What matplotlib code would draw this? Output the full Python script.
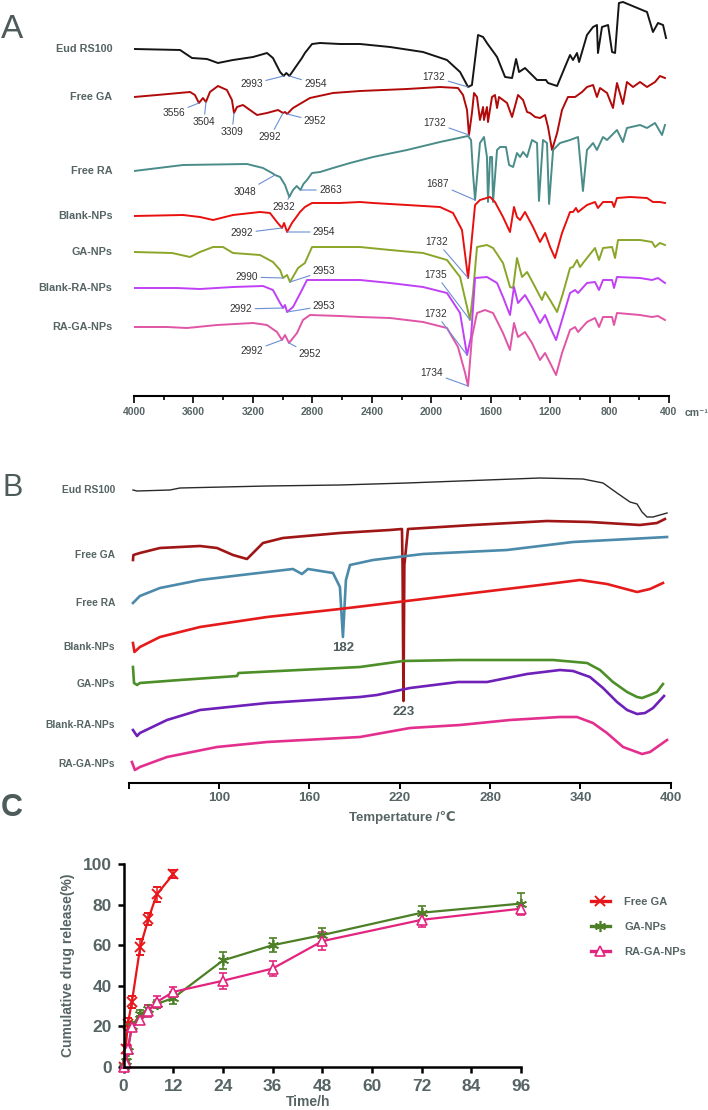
import numpy as np
import matplotlib
matplotlib.use("Agg")
import matplotlib.pyplot as plt
from matplotlib import font_manager
from matplotlib.lines import Line2D
from matplotlib.ticker import MultipleLocator

plt.rcParams['font.family'] = ['Liberation Sans', 'DejaVu Sans']
have_narrow = any(f.name == 'Liberation Sans Narrow' for f in font_manager.fontManager.ttflist)
narrow = ['Liberation Sans Narrow', 'DejaVu Sans'] if have_narrow else ['Liberation Sans', 'DejaVu Sans']

grey = '#566464'
letter_grey = '#4d5b5b'

######################### A: FTIR spectra (wavenumber, relative T a.u.) ##########
sample_names = ['Eud RS100', 'Free GA', 'Free RA', 'Blank-NPs', 'GA-NPs', 'Blank-RA-NPs', 'RA-GA-NPs']

eud_wn = [4000, 3690, 3610, 3509, 3435, 3334, 3199, 3105, 3065, 3017, 2993, 2975, 2954, 2917, 2870,
          2850, 2802, 2748, 2614, 2479, 2277, 2055, 1894, 1806, 1752, 1726, 1685, 1651, 1625, 1557,
          1503, 1456, 1429, 1409, 1369, 1288, 1228, 1214, 1153, 1086, 1066, 1046, 1019, 1005, 952,
          911, 885, 878, 851, 810, 783, 763, 737, 710, 548, 508, 474, 440, 420]
eud_t = [0, -1, -9, -10, -14, -11, -8, -4, -9, -23, -27, -24, -27, -19, -9,
         -4, 5, 6, 5, 5, 2, -3, -11, -23, -38, -36, 14, 12, 6, -8,
         -28, -29, -10, -23, -19, -31, -31, -34, -37, -13, -6, -11, -4, -13, 14,
         22, 24, -4, 22, 24, -3, -4, 46, 47, 37, 17, 26, 24, 11]

ga_wn = [4000, 3845, 3623, 3590, 3563, 3536, 3516, 3489, 3435, 3375, 3341, 3327, 3307, 3267, 3172,
         3105, 3031, 2997, 2984, 2970, 2930, 2816, 2661, 2479, 2163, 1941, 1820, 1786, 1759, 1746,
         1726, 1712, 1692, 1672, 1651, 1645, 1625, 1618, 1591, 1571, 1557, 1544, 1490, 1456, 1416,
         1382, 1355, 1335, 1301, 1268, 1234, 1214, 1187, 1153, 1120, 1080, 1032, 985, 952, 911,
         885, 864, 817, 777, 750, 710, 683, 642, 595, 548, 494, 461, 427]
ga_t = [0, 2, 5, 2, -6, -1, -5, 5, 11, 7, -3, -16, -10, -8, -18,
        -16, -13, -16, -15, -17, -11, -1, 4, 6, 8, 10, 9, 2, -13, -38,
        -16, 4, 0, -23, -10, -23, -10, -25, 0, 2, -11, 0, -6, -20, 2,
        -3, -15, -16, -20, -21, -18, -30, -53, -36, -13, 0, 0, 5, 10, 12,
        0, 9, 4, -11, 14, -7, 15, 10, 15, 10, 15, 21, 19]

ra_wn = [4000, 3670, 3240, 3132, 3071, 3051, 3017, 2984, 2955, 2930, 2905, 2880, 2860, 2836, 2802,
         2748, 2661, 2546, 2392, 2163, 1941, 1752, 1732, 1719, 1705, 1672, 1645, 1625, 1618, 1604,
         1591, 1584, 1557, 1537, 1497, 1476, 1449, 1423, 1402, 1382, 1355, 1322, 1288, 1275, 1248,
         1221, 1207, 1180, 1133, 1066, 1012, 979, 952, 911, 885, 844, 817, 750, 710, 683,
         595, 548, 494, 447, 427]
ra_t = [0, 6, 7, 3, -2, -4, -6, -14, -26, -19, -15, -19, -13, -9, -2,
        -1, 3, 8, 14, 21, 29, 35, 31, -2, -29, 28, 34, 14, -31, 14,
        14, -31, 21, 24, 24, 6, 4, 18, 14, 19, 14, 31, 28, -30, 31,
        28, -33, 21, 28, 31, 34, -20, 21, 28, 21, 34, 31, 41, 29, 43,
        46, 43, 48, 36, 46]

bnp_wn = [4000, 3670, 3556, 3468, 3334, 3152, 3085, 3038, 3004, 2990, 2970, 2937, 2883, 2850, 2802,
          2614, 2479, 2392, 2163, 1941, 1853, 1793, 1752, 1732, 1705, 1672, 1604, 1571, 1517, 1470,
          1443, 1423, 1402, 1369, 1315, 1268, 1234, 1200, 1167, 1120, 1066, 1046, 1026, 1012, 952,
          898, 878, 844, 783, 770, 750, 662, 548, 508, 461, 427]
bnp_t = [0, 1, -1, -4, 1, 4, 3, -6, -12, -7, -16, -7, 4, 9, 13,
         13, 14, 13, 11, 9, 3, -14, -62, -31, 11, 16, 19, 14, -1, -16,
         9, -1, -4, 4, -11, -26, -17, -31, -42, -17, 4, 4, 8, 4, 11,
         14, 8, 14, 14, 9, 18, 19, 18, 14, 14, 13]

gnp_wn = [4000, 3744, 3623, 3556, 3468, 3401, 3334, 3152, 3065, 3017, 2997, 2970, 2950, 2896, 2850,
          2802, 2614, 2479, 2277, 2055, 1894, 1806, 1759, 1739, 1719, 1692, 1625, 1584, 1517, 1470,
          1449, 1423, 1389, 1355, 1315, 1255, 1234, 1200, 1153, 1113, 1066, 1046, 1019, 999, 952,
          898, 871, 844, 783, 763, 743, 595, 514, 494, 461, 427]
gnp_t = [0, -1, -5, 0, 5, 5, -1, -3, -10, -18, -26, -23, -30, -16, -11,
         5, 5, 5, 2, -1, -8, -25, -55, -68, -41, 5, 7, 4, -11, -35,
         -36, -6, -25, -20, -31, -48, -40, -48, -60, -41, -16, -15, -8, -15, -6,
         4, -8, 4, 5, -6, 12, 12, 10, 5, 9, 7]

brnp_wn = [4000, 3711, 3556, 3334, 3132, 3065, 3017, 2997, 2984, 2970, 2930, 2870, 2836, 2614, 2479,
           2277, 2055, 1894, 1806, 1759, 1732, 1705, 1625, 1557, 1517, 1470, 1443, 1416, 1369, 1322,
           1268, 1234, 1200, 1160, 1120, 1066, 1032, 1012, 952, 898, 871, 844, 783, 770, 750,
           595, 514, 474, 427]
brnp_t = [0, 0, -1, 1, 2, -2, -15, -20, -17, -24, -19, -2, 8, 8, 8,
          5, 1, -5, -25, -67, -49, 10, 11, 5, -9, -27, 1, -15, -7, -19,
          -35, -27, -39, -52, -32, -5, -2, -5, 5, 6, -2, 8, 8, 0, 11,
          10, 8, 10, 5]

rgnp_wn = [4000, 3778, 3643, 3441, 3199, 3105, 3038, 3004, 2984, 2957, 2903, 2863, 2816, 2614, 2479,
           2277, 2055, 1894, 1820, 1772, 1752, 1726, 1692, 1638, 1584, 1517, 1470, 1443, 1416, 1369,
           1322, 1268, 1234, 1200, 1160, 1120, 1066, 1032, 1012, 952, 898, 871, 844, 783, 770,
           750, 595, 514, 474, 427]
rgnp_t = [0, 0, -1, 2, 4, 2, -5, -13, -8, -16, -6, 7, 12, 11, 10,
          9, 5, -1, -20, -46, -59, -10, 14, 17, 14, -6, -23, 4, -10, -5,
          -16, -33, -26, -36, -48, -26, -3, 0, -5, 5, 9, 0, 10, 10, 2,
          14, 12, 10, 11, 7]

ftir_wn = [eud_wn, ga_wn, ra_wn, bnp_wn, gnp_wn, brnp_wn, rgnp_wn]
ftir_t = [eud_t, ga_t, ra_t, bnp_t, gnp_t, brnp_t, rgnp_t]
ftir_colors = ['#151515', '#b20a0a', '#4a8c8a', '#e8100e', '#8aa62a', '#c040f5', '#e055a5']
ftir_offsets = [347, 299, 225, 180, 144, 108, 69]

# (trace, peak wavenumber, label, text offset x, y in pixels)
ftir_peaks = [
    (0, 2993, '2993', -32, -8), (0, 2954, '2954', 26, -8), (0, 1752, '1732', -34, 10),
    (1, 3563, '3556', -25, -10), (1, 3516, '3504', -2, -20), (1, 3327, '3309', -2, -19),
    (1, 2997, '2992', -13, -24), (1, 2970, '2952', 28, -7), (1, 1746, '1732', -34, 12),
    (2, 3051, '3048', -30, -17), (2, 2955, '2932', -6, -10), (2, 2880, '2863', 30, 0),
    (2, 1705, '1687', -37, 16),
    (3, 3004, '2992', -40, -5), (3, 2970, '2954', 37, 0), (3, 1752, '1732', -31, 36),
    (4, 2997, '2990', -36, 1), (4, 2950, '2953', 34, 11), (4, 1739, '1735', -34, 45),
    (5, 2997, '2992', -42, -1), (5, 2970, '2953', 37, 6), (5, 1759, '1732', -31, 41),
    (6, 3004, '2992', -30, -11), (6, 2957, '2952', 21, -11), (6, 1752, '1734', -36, 13),
]

######################### B: DSC curves (temperature, relative heat flow) #########
eud_T = [42.9, 45.6, 67.5, 74.1, 131.9, 180.3, 224.8, 313.1, 341.7, 355.0, 364.3, 372.9, 377.6,
         380.9, 384.2, 388.2, 392.8, 397.5]
eud_hf = [0, -1, 0, 2, 4, 5, 7, 12, 11, 7, -3, -12, -14, -22, -27, -27, -25, -23]

ga_T = [42.9, 43.2, 47.5, 60.8, 87.4, 98.7, 109.3, 118.6, 122.6, 129.2, 142.5, 180.3, 213.5,
        221.5, 221.9, 222.2, 222.5, 222.8, 223.1, 225.5, 268.7, 317.8, 346.3, 379.5, 390.8, 396.1]
ga_hf = [-5, 0, 2, 7, 9, 7, 0, -4, 2, 12, 17, 22, 25, 26, -10, -80, -146, -80, -10, 26, 30, 34,
         33, 30, 32, 36]

ra_T = [42.9, 47.5, 60.8, 87.4, 120.6, 149.1, 155.1, 159.1, 175.7, 180.3, 182.3, 184.3, 187.0,
        202.3, 235.5, 291.2, 335.0, 397.5]
ra_hf = [0, 7, 15, 23, 29, 34, 29, 34, 30, 16, -34, 23, 38, 43, 49, 53, 61, 66]

bnp_T = [42.9, 43.9, 47.5, 60.8, 87.4, 131.9, 180.3, 246.7, 313.1, 339.7, 357.6, 377.6, 386.2, 394.8]
bnp_hf = [4, -5, 0, 10, 20, 30, 38, 50, 62, 67, 63, 55, 58, 64]

gnp_T = [42.9, 43.6, 45.6, 47.5, 74.1, 112.0, 113.0, 193.6, 222.2, 260.0, 321.8, 344.4, 353.0,
         361.6, 371.0, 377.6, 380.9, 386.2, 390.8, 394.8]
gnp_hf = [17, 1, -1, 1, 4, 8, 11, 17, 23, 24, 24, 21, 14, 2, -8, -13, -14, -11, -8, 0]

brnp_T = [42.9, 45.6, 47.5, 65.5, 87.4, 131.9, 193.6, 204.9, 226.8, 258.7, 278.0, 304.5, 326.4,
          335.1, 346.3, 355.0, 364.3, 371.0, 377.6, 382.9, 388.2, 395.5]
brnp_hf = [-5, -11, -8, 5, 15, 22, 28, 30, 37, 43, 43, 51, 55, 54, 48, 37, 23, 15, 11, 12, 17, 29]

rgnp_T = [42.2, 44.2, 47.5, 65.5, 98.7, 131.9, 193.6, 226.8, 260.0, 293.2, 326.4, 337.7, 348.3,
          357.6, 368.3, 380.9, 386.2, 392.8, 397.5]
rgnp_hf = [2, -6, -3, 7, 17, 22, 27, 36, 39, 44, 47, 47, 41, 31, 17, 10, 12, 19, 24]

dsc_T = [eud_T, ga_T, ra_T, bnp_T, gnp_T, brnp_T, rgnp_T]
dsc_hf = [eud_hf, ga_hf, ra_hf, bnp_hf, gnp_hf, brnp_hf, rgnp_hf]
dsc_colors = ['#2a2a2a', '#a01515', '#4b8aab', '#e51b1b', '#4c8f28', '#6e20b8', '#e3308e']
dsc_offsets = [293, 228, 180, 136, 99, 58, 19]
dsc_peaks = [(2, '182'), (1, '223')]

######################### C: release profile #######################################
free_ga_t = [0, 0.5, 1, 2, 4, 6, 8, 12]
free_ga = [0, 9, 21, 32, 59, 73, 85, 95]
free_ga_err = [1, 2, 3, 3, 4, 3, 3.5, 2]

np_t = [0, 0.5, 1, 2, 4, 6, 8, 12, 24, 36, 48, 72, 96]
ga_nps = [0, 3, 8, 20, 26, 28.5, 31, 34, 52.5, 60, 65, 76, 80.5]
ga_nps_err = [1, 1, 1.5, 2, 2, 2, 2, 3, 4, 3.5, 3.5, 3.5, 5]
ra_ga_nps = [0, 2, 9, 19.5, 23, 27.5, 32, 37, 42.5, 48.5, 62, 72.5, 78]
ra_ga_nps_err = [1, 1, 1.5, 2, 2, 3, 3, 2.5, 4, 3.5, 4.5, 3.5, 3]

######################### figure ###################################################
W, H = 708, 1110
fig = plt.figure(figsize=(W / 100, H / 100), dpi=100)


def px_axes(x0, y0, x1, y1):
    return fig.add_axes([x0 / W, 1 - y1 / H, (x1 - x0) / W, (y1 - y0) / H])


def bottom_only(ax, lw):
    for s in ['top', 'right', 'left']:
        ax.spines[s].set_visible(False)
    ax.spines['bottom'].set_linewidth(lw)
    ax.set_yticks([])
    ax.patch.set_alpha(0)


# ---- A ----
axA = px_axes(134, 0, 669, 396)
for name, wn, t, off, col in zip(sample_names, ftir_wn, ftir_t, ftir_offsets, ftir_colors):
    axA.plot(wn, np.asarray(t) + off, color=col, lw=1.4, solid_joinstyle='round')
    axA.text(-0.04, off, name, transform=axA.get_yaxis_transform(), ha='right', va='center',
             fontsize=7.8, fontweight='bold', color=grey)

for idx, pk, txt, dx, dy in ftir_peaks:
    wn = np.asarray(ftir_wn[idx])[::-1]
    t = np.asarray(ftir_t[idx])[::-1]
    y = ftir_offsets[idx] + np.interp(pk, wn, t)
    axA.annotate(txt, xy=(pk, y), xytext=(dx, dy), textcoords='offset pixels', ha='center',
                 va='center', fontsize=7.3, color='#333333',
                 arrowprops=dict(arrowstyle='-', color='#6b8fd4', lw=0.8, shrinkA=0, shrinkB=0))

axA.set_xlim(4000, 400)
axA.set_ylim(0, 396)
bottom_only(axA, 1.5)
axA.set_xticks(np.arange(4000, 399, -400))
axA.xaxis.set_minor_locator(MultipleLocator(200))
axA.tick_params(axis='x', which='major', length=5, width=1.2, pad=3, labelsize=7.5, labelcolor=grey)
axA.tick_params(axis='x', which='minor', length=3, width=1.2)
for lab in axA.get_xticklabels():
    lab.set_fontweight('bold')
axA.text(1.03, -0.043, 'cm\u207b\u00b9', transform=axA.transAxes, ha='left', va='center',
         fontsize=7.5, fontweight='bold', color=grey)

# ---- B ----
axB = px_axes(128.6, 470, 670.8, 783)
for name, T, hf, off, col in zip(sample_names, dsc_T, dsc_hf, dsc_offsets, dsc_colors):
    axB.plot(T, np.asarray(hf) + off, color=col, lw=1.0 if col == '#2a2a2a' else 1.9,
             solid_joinstyle='round')
    axB.text(-0.025, off, name, transform=axB.get_yaxis_transform(), ha='right', va='center',
             fontsize=7.4, fontweight='bold', color=grey)

for idx, txt in dsc_peaks:
    k = int(np.argmin(dsc_hf[idx]))
    axB.annotate(txt, xy=(dsc_T[idx][k], dsc_hf[idx][k] + dsc_offsets[idx]), xytext=(0, -11),
                 textcoords='offset pixels', ha='center', va='center', fontsize=9.5,
                 fontweight='bold', color=letter_grey)

axB.set_xlim(40, 400)
axB.set_ylim(0, 313)
bottom_only(axB, 1.5)
axB.set_xticks([40, 100, 160, 220, 280, 340, 400])
axB.set_xticklabels(['', '100', '160', '220', '280', '340', '400'])
axB.tick_params(axis='x', length=4, width=1.4, pad=2.5, labelsize=9.5, labelcolor=grey)
for lab in axB.get_xticklabels():
    lab.set_fontweight('bold')
fig.text(402 / W, 1 - 818 / H, 'Tempertature /\u2103', ha='center', va='center', fontsize=9.5,
         fontweight='bold', color=grey)

# ---- C ----
axC = px_axes(123.6, 864, 521, 1067)
c_red, c_green, c_pink = '#e8161b', '#4c7f26', '#e3247f'
series = [
    (free_ga_t, free_ga, free_ga_err, c_red, dict(marker='x', ms=7, mew=1.4)),
    (np_t, ga_nps, ga_nps_err, c_green, dict(marker=(6, 2, 0), ms=8, mew=1.2)),
    (np_t, ra_ga_nps, ra_ga_nps_err, c_pink, dict(marker='^', ms=7, mew=1.2, mfc='white')),
]
for x, y, e, col, mk in series:
    cont = axC.errorbar(x, y, yerr=e, color=col, lw=1.6, capsize=3.2, elinewidth=1.1,
                        capthick=1.1, **mk)
    cont.lines[0].set_clip_on(False)
    for art in list(cont.lines[1]) + list(cont.lines[2]):
        art.set_clip_on(False)

axC.set_xlim(0, 96)
axC.set_ylim(0, 100)
for s in ['top', 'right']:
    axC.spines[s].set_visible(False)
for s in ['left', 'bottom']:
    axC.spines[s].set_linewidth(1.8)
axC.set_xticks(np.arange(0, 97, 12))
axC.set_yticks(np.arange(0, 101, 20))
axC.tick_params(length=4.5, width=1.8, labelsize=12.5, labelcolor=grey, pad=4)
for lab in axC.get_xticklabels() + axC.get_yticklabels():
    lab.set_fontweight('bold')
    lab.set_family(narrow)
fig.text(68 / W, 1 - 965 / H, 'Cumulative drug release(%)', rotation=90, ha='center',
         va='center', fontsize=10, fontweight='bold', color=grey)
fig.text(308 / W, 1 - 1102 / H, 'Time/h', ha='center', va='center', fontsize=10,
         fontweight='bold', color=grey, family=narrow)

handles = [Line2D([], [], color=col, lw=2.4, **mk) for _, _, _, col, mk in series]
leg = fig.legend(handles, ['Free GA', 'GA-NPs', 'RA-GA-NPs'], loc='upper left',
                 bbox_to_anchor=(591 / W, 1 - 897 / H), frameon=False,
                 prop={'weight': 'bold', 'size': 8}, handlelength=1.7, handletextpad=1.3,
                 labelspacing=1.35, borderpad=0, borderaxespad=0)
for t in leg.get_texts():
    t.set_color(grey)

# panel letters
fig.text(12 / W, 1 - 30 / H, 'A', fontsize=24, color=letter_grey, ha='center', va='center')
fig.text(13 / W, 1 - 488 / H, 'B', fontsize=22, color=letter_grey, ha='center', va='center')
fig.text(12 / W, 1 - 808 / H, 'C', fontsize=22, fontweight='bold', color=letter_grey,
         ha='center', va='center', family=narrow)

fig.savefig('out.png', dpi=100)
